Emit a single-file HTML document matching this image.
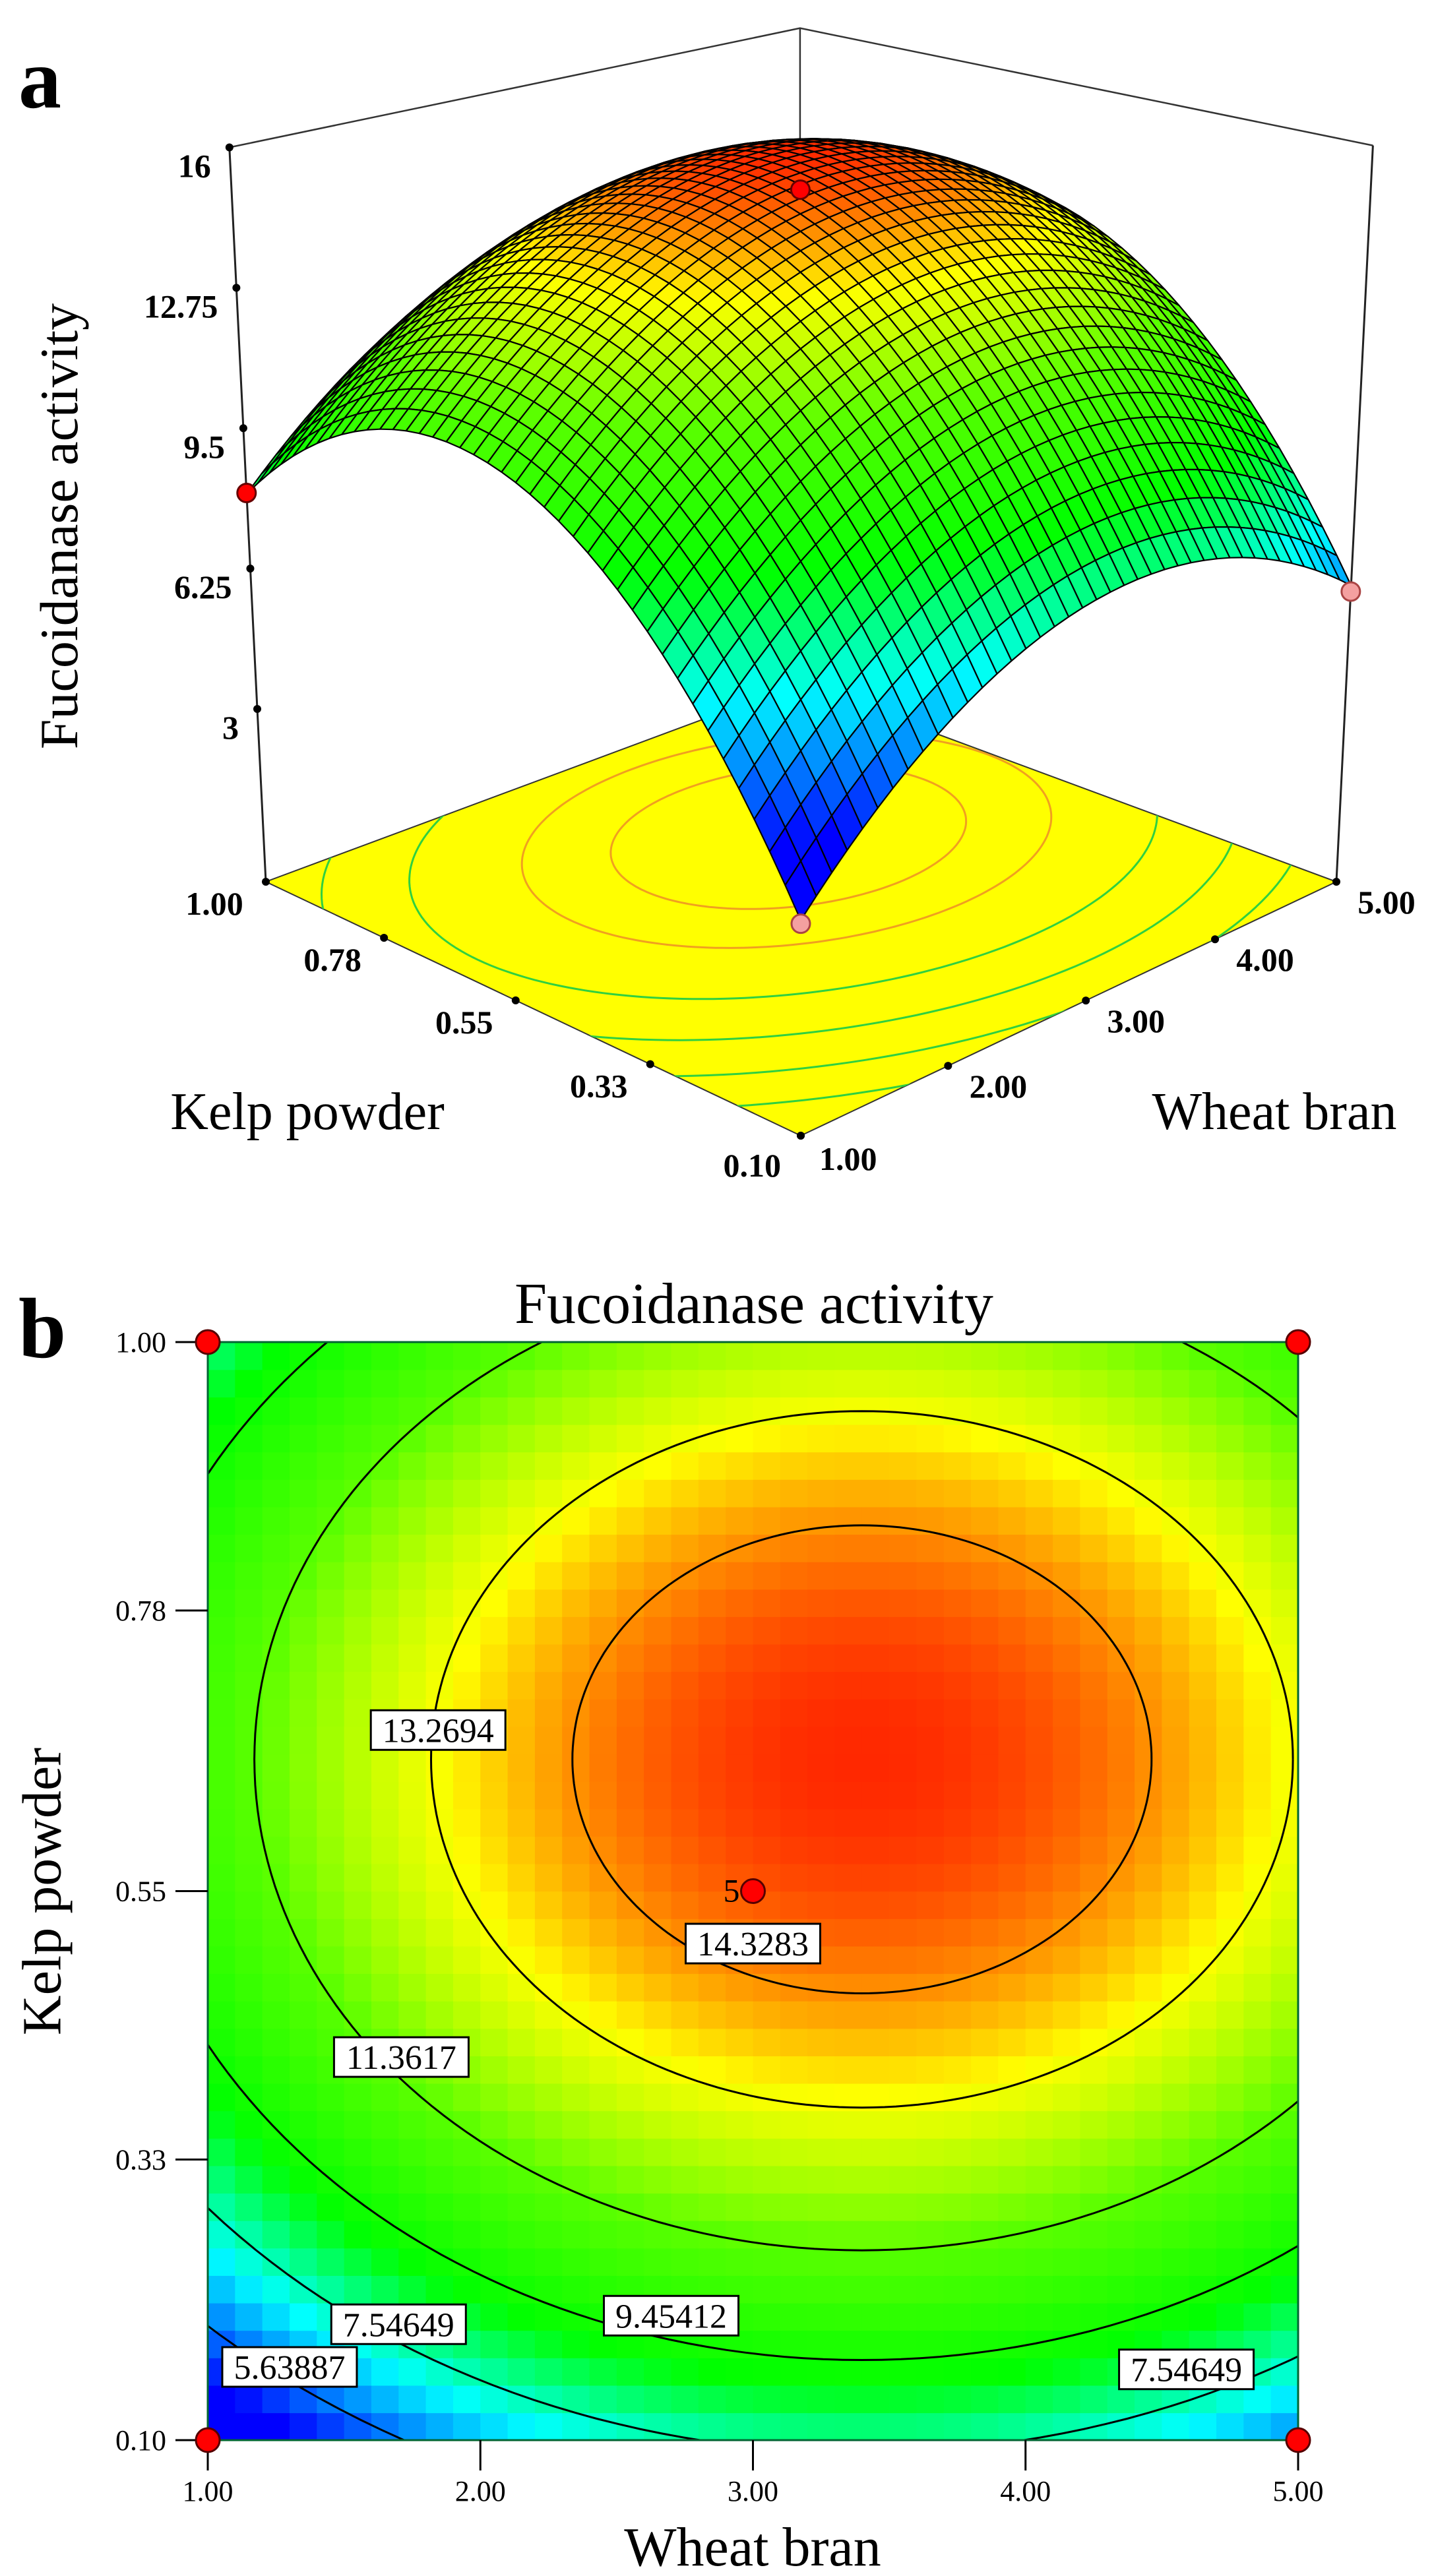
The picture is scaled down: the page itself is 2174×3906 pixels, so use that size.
<!DOCTYPE html>
<html><head><meta charset="utf-8">
<style>
html,body{margin:0;padding:0;background:#fff;}
svg{display:block;}
text{font-family:"Liberation Serif","DejaVu Serif",serif;}
</style></head>
<body>
<svg id="fig" xmlns="http://www.w3.org/2000/svg" width="2174" height="3906" viewBox="0 0 2174 3906">
  <defs>
    <clipPath id="clipB"><rect x="315" y="2035" width="1653" height="1665"/></clipPath>
    <clipPath id="clipFloor"><polygon id="floorClipPoly" points="0,0"/></clipPath>
  </defs>
  <rect x="0" y="0" width="2174" height="3906" fill="#fff"/>
  <g id="panelA"></g>
  <g id="panelB"></g>
  <text x="28" y="163" font-size="130" font-weight="bold">a</text>
  <text x="28" y="2058" font-size="130" font-weight="bold">b</text>
  <text x="98" y="798" font-size="82" text-anchor="middle" dominant-baseline="middle" transform="rotate(-90 98 798)">Fucoidanase activity</text>
  <text x="466" y="1712" font-size="80" text-anchor="middle">Kelp powder</text>
  <text x="1932" y="1712" font-size="80" text-anchor="middle">Wheat bran</text>
  <text x="1143" y="2006" font-size="88" text-anchor="middle">Fucoidanase activity</text>
  <text x="1141" y="3890" font-size="84" text-anchor="middle">Wheat bran</text>
  <text x="72" y="2868" font-size="84" text-anchor="middle" dominant-baseline="middle" transform="rotate(-90 72 2868)">Kelp powder</text>
</svg>
<script>
// ---- data ----
const coefNames = ['b0','b1','b2','b12','b11','b22'];
const coefValues = [14.80, 1.236, 2.304, 0, -3.09, -4.8];
const contourLevels = [5.63887, 7.54649, 9.45412, 11.3617, 13.2694, 14.3283];
const labelLevels = ['13.2694','14.3283','11.3617','9.45412','7.54649','5.63887','7.54649'];
const labelWheat = [1.845, 3.0, 1.71, 2.70, 1.70, 1.30, 4.59];
const labelKelp = [0.682, 0.507, 0.414, 0.202, 0.195, 0.160, 0.158];
const designWheat = [1, 5, 1, 5, 3];
const designKelp = [0.1, 0.1, 1, 1, 0.55];
const designObs = [3.3, 5.7, 8.0, 10.0, 15.0];
const designReps = ['', '', '', '', '5'];
const zTicks = [3, 6.25, 9.5, 12.75, 16];
const zTickLabels = ['3', '6.25', '9.5', '12.75', '16'];
const wheatTicks = [1, 2, 3, 4, 5];
const wheatTickLabels = ['1.00', '2.00', '3.00', '4.00', '5.00'];
const kelpTicks = [0.1, 0.33, 0.55, 0.78, 1.0];
const kelpTickLabels = ['0.10', '0.33', '0.55', '0.78', '1.00'];
const cmapVals = [4.6, 7.0, 9.0, 11.4, 13.4, 15.2];

const NS = 'http://www.w3.org/2000/svg';
function mk(tag, attrs, parent) {
  const e = document.createElementNS(NS, tag);
  for (const k in attrs) e.setAttribute(k, attrs[k]);
  parent.appendChild(e);
  return e;
}
const C = {};
coefNames.forEach((n, i) => C[n] = coefValues[i]);
function model(w, k) {
  const x1 = (w - 3) / 2, x2 = (k - 0.55) / 0.45;
  return C.b0 + C.b1 * x1 + C.b2 * x2 + C.b12 * x1 * x2 + C.b11 * x1 * x1 + C.b22 * x2 * x2;
}
const cmapCols = [[0,0,255],[0,255,255],[0,255,0],[90,255,0],[255,255,0],[255,40,0]];
function cmap(z) {
  if (z <= cmapVals[0]) return 'rgb(' + cmapCols[0].join(',') + ')';
  for (let i = 0; i < cmapVals.length - 1; i++) {
    if (z <= cmapVals[i + 1]) {
      const t = (z - cmapVals[i]) / (cmapVals[i + 1] - cmapVals[i]);
      const a = cmapCols[i], b = cmapCols[i + 1];
      return 'rgb(' + [0,1,2].map(j => Math.round(a[j] + (b[j] - a[j]) * t)).join(',') + ')';
    }
  }
  return 'rgb(' + cmapCols[cmapCols.length - 1].join(',') + ')';
}
const x1c = -C.b1 / (2 * C.b11), x2c = -C.b2 / (2 * C.b22);
const Mmax = C.b0 - C.b1 * C.b1 / (4 * C.b11) - C.b2 * C.b2 / (4 * C.b22);
function ellipsePts(L, n) {
  const r = Mmax - L; const pts = [];
  if (r <= 0) return pts;
  const ra = Math.sqrt(r / -C.b11), rc = Math.sqrt(r / -C.b22);
  for (let i = 0; i <= n; i++) {
    const t = i / n * 2 * Math.PI;
    const x1 = x1c + ra * Math.cos(t), x2 = x2c + rc * Math.sin(t);
    pts.push([3 + 2 * x1, 0.55 + 0.45 * x2]);
  }
  return pts;
}

// ================= Panel B =================
const gB = document.getElementById('panelB');
const BX0 = 315, BW = 1653, BY1 = 3700, BH = 1665;
const bx = w => BX0 + (w - 1) / 4 * BW;
const by = k => BY1 - (k - 0.1) / 0.9 * BH;
const heat = mk('g', {'clip-path': 'url(#clipB)'}, gB);


const NB = 40;
for (let i = 0; i < NB; i++) for (let j = 0; j < NB; j++) {
  const w = 1 + (i + 0.5) * 4 / NB, k = 0.1 + (j + 0.5) * 0.9 / NB;
  const r = mk('rect', {x: bx(1 + i * 4 / NB), y: by(0.1 + (j + 1) * 0.9 / NB), width: BW / NB + 0.7, height: BH / NB + 0.7, fill: cmap(model(w, k))}, heat);
  
  
}
contourLevels.forEach(L => {
  const pts = ellipsePts(L, 240);
  if (!pts.length) return;
  const p = mk('path', {d: 'M' + pts.map(q => bx(q[0]).toFixed(1) + ',' + by(q[1]).toFixed(1)).join('L'), fill: 'none', stroke: '#000', 'stroke-width': 3}, heat);
  
  
});
const frame = mk('rect', {x: BX0, y: BY1 - BH, width: BW, height: BH, fill: 'none', stroke: '#063', 'stroke-width': 3}, gB);


kelpTicks.forEach((k, i) => {
  const t = mk('line', {x1: 266, x2: BX0, y1: by(k), y2: by(k), stroke: '#000', 'stroke-width': 3}, gB);
  
  
  const tx = mk('text', {x: 252, y: by(k) + 15, 'font-size': 44, 'text-anchor': 'end'}, gB);
  tx.textContent = kelpTickLabels[i];
  
  
});
wheatTicks.forEach((w, i) => {
  const t = mk('line', {x1: bx(w), x2: bx(w), y1: BY1, y2: BY1 + 46, stroke: '#000', 'stroke-width': 3}, gB);
  
  
  const tx = mk('text', {x: bx(w), y: 3792, 'font-size': 44, 'text-anchor': 'middle'}, gB);
  tx.textContent = wheatTickLabels[i];
  
  
});
labelLevels.forEach((s, i) => {
  const cx = bx(labelWheat[i]), cy = by(labelKelp[i]);
  const g = mk('g', {}, gB);
  
  
  mk('rect', {x: cx - 102, y: cy - 30, width: 204, height: 60, fill: '#fff', stroke: '#000', 'stroke-width': 3}, g);
  const tx = mk('text', {x: cx, y: cy + 18, 'font-size': 52, 'text-anchor': 'middle'}, g);
  tx.textContent = s;
});
designWheat.forEach((w, i) => {
  const c = mk('circle', {cx: bx(w), cy: by(designKelp[i]), r: 18, fill: '#f00', stroke: '#500', 'stroke-width': 3}, gB);
  
  
  if (designReps[i]) {
    const tx = mk('text', {x: bx(w) - 20, y: by(designKelp[i]) + 16, 'font-size': 50, 'text-anchor': 'end'}, gB);
    tx.textContent = designReps[i];
    
    
  }
});

// ================= Panel A =================
const gA = document.getElementById('panelA');
const P0 = [1214, 1722], P1 = [2026, 1337], P2 = [1213, 1036], P3 = [403, 1337];
const dx1 = P1[0] - P2[0], dx2 = P3[0] - P2[0], dx3 = P0[0] - P1[0] + P2[0] - P3[0];
const dy1 = P1[1] - P2[1], dy2 = P3[1] - P2[1], dy3 = P0[1] - P1[1] + P2[1] - P3[1];
const den = dx1 * dy2 - dx2 * dy1;
const Hg = (dx3 * dy2 - dx2 * dy3) / den, Hh = (dx1 * dy3 - dx3 * dy1) / den;
const Ha = P1[0] - P0[0] + Hg * P1[0], Hb = P3[0] - P0[0] + Hh * P3[0], Hc = P0[0];
const Hd = P1[1] - P0[1] + Hg * P1[1], He = P3[1] - P0[1] + Hh * P3[1], Hf = P0[1];
const S = 65.5 * (Hh + 1), zFloor = -1, VX = 1214, VY = 17700;
function proj(w, k, z) {
  const u = (w - 1) / 4, v = (k - 0.1) / 0.9;
  const ww = Hg * u + Hh * v + 1;
  const X = (Ha * u + Hb * v + Hc) / ww, Y = (Hd * u + He * v + Hf) / ww;
  const up = (z - zFloor) * S / ww;
  return [X + (X - VX) * up / (VY - Y), Y - up, ww];
}
const f2 = p => p[0].toFixed(1) + ',' + p[1].toFixed(1);
const floorPts = [proj(1,0.1,zFloor), proj(5,0.1,zFloor), proj(5,1,zFloor), proj(1,1,zFloor)];
document.getElementById('floorClipPoly').setAttribute('points', floorPts.map(f2).join(' '));
const floor = mk('polygon', {points: floorPts.map(f2).join(' '), fill: '#ffff00', stroke: '#333', 'stroke-width': 2}, gA);


const fc = mk('g', {'clip-path': 'url(#clipFloor)'}, gA);


contourLevels.forEach(L => {
  const pts = ellipsePts(L, 240);
  if (!pts.length) return;
  const col = L > 12 ? '#f0a020' : '#30d040';
  const p = mk('path', {d: 'M' + pts.map(q => f2(proj(q[0], q[1], zFloor))).join('L'), fill: 'none', stroke: col, 'stroke-width': 3}, fc);
  
  
});
const zTop = 16;
const TL = proj(1,1,zTop), TB = proj(5,1,zTop), TR = proj(5,0.1,zTop), BB = proj(5,1,zFloor);
const box = mk('path', {d: 'M' + f2(TL) + 'L' + f2(TB) + 'L' + f2(TR) + 'M' + f2(TB) + 'L' + f2(BB), fill: 'none', stroke: '#333', 'stroke-width': 2.5}, gA);


function point3d(i) {
  const p = proj(designWheat[i], designKelp[i], designObs[i]);
  const above = designObs[i] >= model(designWheat[i], designKelp[i]);
  const c = mk('circle', {cx: p[0], cy: p[1], r: 14, fill: above ? '#f00' : '#f4a0a0', stroke: above ? '#600' : '#a44', 'stroke-width': 3}, gA);
  
  
}
point3d(3);
const N = 40, quads = [];
for (let i = 0; i < N; i++) for (let j = 0; j < N; j++) {
  const w0 = 1 + i * 4 / N, w1 = 1 + (i + 1) * 4 / N, k0 = 0.1 + j * 0.9 / N, k1 = 0.1 + (j + 1) * 0.9 / N;
  const cs = [[w0,k0],[w1,k0],[w1,k1],[w0,k1]].map(q => proj(q[0], q[1], model(q[0], q[1])));
  const zc = model((w0 + w1) / 2, (k0 + k1) / 2);
  const depth = proj((w0 + w1) / 2, (k0 + k1) / 2, zFloor)[2];
  quads.push({cs, zc, depth});
}
quads.sort((a, b) => b.depth - a.depth);
const surf = mk('g', {}, gA);


quads.forEach(q => {
  const p = mk('polygon', {points: q.cs.map(f2).join(' '), fill: cmap(q.zc), stroke: '#000', 'stroke-width': 2.2, 'stroke-linejoin': 'round'}, surf);
  
  
});
const LB = proj(1,1,zFloor), RB = proj(5,0.1,zFloor);
const vl = mk('path', {d: 'M' + f2(LB) + 'L' + f2(TL) + 'M' + f2(RB) + 'L' + f2(TR), fill: 'none', stroke: '#222', 'stroke-width': 3}, gA);


[0, 1, 2, 4].forEach(point3d);
zTicks.forEach((z, i) => {
  const p = proj(1, 1, z);
  const d = mk('circle', {cx: p[0], cy: p[1], r: 6, fill: '#000'}, gA);
  
  
  const tx = mk('text', {x: p[0] - 28, y: p[1] + 45, 'font-size': 50, 'font-weight': 'bold', 'text-anchor': 'end'}, gA);
  tx.textContent = zTickLabels[i];
  
  
});
kelpTicks.forEach((k, i) => {
  const p = proj(1, k, zFloor);
  const d = mk('circle', {cx: p[0], cy: p[1], r: 6, fill: '#000'}, gA);
  
  
  const tx = mk('text', {x: p[0] - (i === 0 ? 30 : 78), y: p[1] + (i === 0 ? 62 : 50), 'font-size': 50, 'font-weight': 'bold', 'text-anchor': i === 0 ? 'end' : 'middle'}, gA);
  tx.textContent = kelpTickLabels[i];
  
  
});
wheatTicks.forEach((w, i) => {
  const p = proj(w, 0.1, zFloor);
  const d = mk('circle', {cx: p[0], cy: p[1], r: 6, fill: '#000'}, gA);
  
  
  const tx = mk('text', {x: p[0] + (i === 0 ? 28 : 76), y: p[1] + (i === 0 ? 52 : 48), 'font-size': 50, 'font-weight': 'bold', 'text-anchor': i === 0 ? 'start' : 'middle'}, gA);
  tx.textContent = wheatTickLabels[i];
  
  
});
</script>
</body></html>
